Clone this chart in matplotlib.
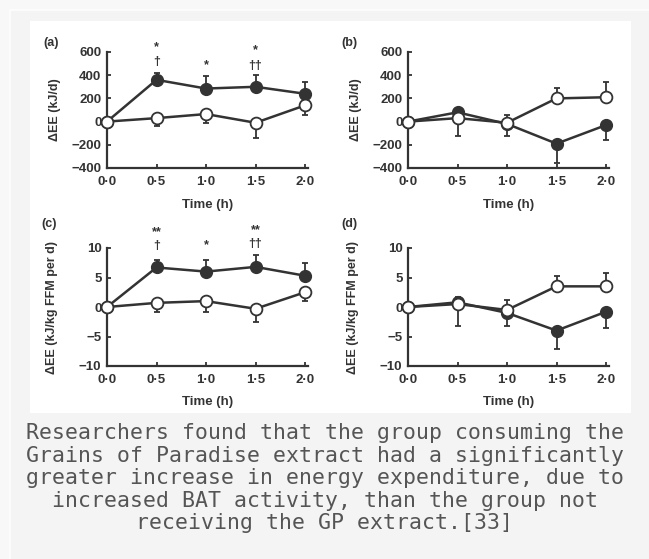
import matplotlib

matplotlib.use("Agg")
import matplotlib.pyplot as plt
from matplotlib.patches import Rectangle

# time points (h)
times = [0.0, 0.5, 1.0, 1.5, 2.0]
time_labels = ["0·0", "0·5", "1·0", "1·5", "2·0"]

# (a) kJ/d
a_fill = [0, 360, 285, 300, 240]
a_fill_up = [0, 60, 105, 100, 100]
a_fill_lo = [0, 0, 0, 0, 0]
a_open = [0, 30, 65, -10, 140]
a_open_up = [0, 0, 0, 0, 0]
a_open_lo = [0, 70, 75, 130, 80]

# (b) kJ/d
b_fill = [0, 80, -20, -190, -30]
b_fill_up = [0, 0, 0, 0, 0]
b_fill_lo = [0, 0, 100, 170, 130]
b_open = [0, 30, -10, 200, 210]
b_open_up = [0, 0, 70, 90, 130]
b_open_lo = [0, 150, 0, 0, 0]

# (c) kJ/kg FFM per d
c_fill = [0, 6.7, 6.0, 6.8, 5.3]
c_fill_up = [0, 1.3, 2.0, 2.0, 2.2]
c_fill_lo = [0, 0, 0, 0, 0]
c_open = [0, 0.7, 1.0, -0.3, 2.5]
c_open_up = [0, 0, 0, 0, 0]
c_open_lo = [0, 1.5, 1.8, 2.2, 1.5]

# (d) kJ/kg FFM per d
d_fill = [0, 0.8, -1.0, -4.0, -0.8]
d_fill_up = [0, 0.9, 0, 0, 0]
d_fill_lo = [0, 0, 2.2, 3.2, 2.7]
d_open = [0, 0.5, -0.5, 3.5, 3.5]
d_open_up = [0, 0, 1.7, 1.7, 2.3]
d_open_lo = [0, 3.8, 0, 0, 0]

# significance marks: (x, y, text)
a_marks = [(0.5, 645, "*"), (0.5, 515, "†"), (1.0, 490, "*"), (1.5, 620, "*"), (1.5, 475, "††")]
c_marks = [(0.5, 12.6, "**"), (0.5, 10.3, "†"), (1.0, 10.4, "*"), (1.5, 13.0, "**"), (1.5, 10.6, "††")]

caption = [
    "Researchers found that the group consuming the",
    "Grains of Paradise extract had a significantly",
    "greater increase in energy expenditure, due to",
    "increased BAT activity, than the group not",
    "receiving the GP extract.[33]",
]

INK = "#333333"
plt.rcParams["font.family"] = ["Liberation Sans", "DejaVu Sans"]

W, H = 649, 559
fig = plt.figure(figsize=(W / 100, H / 100), dpi=100)
fig.patch.set_facecolor("#f8f8f8")


def px_rect(x0, y0, x1, y1, **kw):
    fig.patches.append(Rectangle((x0 / W, 1 - y1 / H), (x1 - x0) / W, (y1 - y0) / H,
                                 transform=fig.transFigure, zorder=-10, **kw))


px_rect(10, 10, 660, 570, facecolor="#f4f4f4", edgecolor="#fdfdfd", linewidth=1.2)
px_rect(30, 21, 631, 413, facecolor="white", edgecolor="none")


def panel(rect, fill, fill_lo, fill_up, opn, opn_lo, opn_up, ylim, yticks, ylabel,
          ylabel_x, xlabel_y, tag, tag_xy, marks):
    x0, y0, x1, y1 = rect
    ax = fig.add_axes([x0 / W, 1 - y1 / H, (x1 - x0) / W, (y1 - y0) / H])
    ax.set_facecolor("none")
    ax.errorbar(times, fill, yerr=[fill_lo, fill_up], color=INK, lw=1.8, marker="o",
                ms=8.5, mfc=INK, mec=INK, ecolor=INK, elinewidth=1.3, capsize=2.5,
                capthick=1.3, clip_on=False, zorder=3)
    ax.errorbar(times, opn, yerr=[opn_lo, opn_up], color=INK, lw=1.8, marker="o",
                ms=8.5, mfc="white", mec=INK, mew=1.3, ecolor=INK, elinewidth=1.3,
                capsize=2.5, capthick=1.3, clip_on=False, zorder=4)
    for mx, my, mt in marks:
        ax.text(mx, my, mt, ha="center", va="center", fontsize=9, fontweight="bold",
                color=INK, clip_on=False)
    ax.set_xlim(0, 2.03)
    ax.set_ylim(*ylim)
    ax.set_xticks(times)
    ax.set_xticklabels(time_labels)
    ax.set_yticks(yticks)
    ax.set_yticklabels([str(v).replace("-", "−") for v in yticks])
    for s in ("top", "right"):
        ax.spines[s].set_visible(False)
    for s in ("left", "bottom"):
        ax.spines[s].set_linewidth(1.6)
        ax.spines[s].set_color(INK)
    ax.tick_params(direction="in", length=3, width=1.3, color=INK, labelcolor=INK,
                   labelsize=9.5)
    ax.tick_params(axis="x", pad=6)
    ax.tick_params(axis="y", pad=4)
    for lab in ax.get_xticklabels() + ax.get_yticklabels():
        lab.set_fontweight("bold")
    ax.set_xlabel("Time (h)", fontsize=9.5, fontweight="bold", color=INK)
    ax.xaxis.set_label_coords(0.5, xlabel_y)
    ax.set_ylabel(ylabel, fontsize=9, fontweight="bold", color=INK)
    ax.yaxis.set_label_coords(ylabel_x, 0.5)
    ax.text(tag_xy[0], tag_xy[1], tag, transform=ax.transAxes, fontsize=9,
            fontweight="bold", color=INK, ha="center", va="center")
    return ax


panel((107, 52, 308, 168), a_fill, a_fill_lo, a_fill_up, a_open, a_open_lo, a_open_up,
      (-400, 600), [-400, -200, 0, 200, 400, 600], "ΔEE (kJ/d)", -0.23, -0.265, "(a)",
      (-0.28, 1.08), a_marks)
panel((408, 52, 609, 168), b_fill, b_fill_lo, b_fill_up, b_open, b_open_lo, b_open_up,
      (-400, 600), [-400, -200, 0, 200, 400, 600], "ΔEE (kJ/d)", -0.23, -0.265, "(b)",
      (-0.29, 1.08), [])
panel((107, 248, 308, 366), c_fill, c_fill_lo, c_fill_up, c_open, c_open_lo, c_open_up,
      (-10, 10), [-10, -5, 0, 5, 10], "ΔEE (kJ/kg FFM per d)", -0.245, -0.25, "(c)",
      (-0.29, 1.2), c_marks)
panel((408, 248, 609, 366), d_fill, d_fill_lo, d_fill_up, d_open, d_open_lo, d_open_up,
      (-10, 10), [-10, -5, 0, 5, 10], "ΔEE (kJ/kg FFM per d)", -0.245, -0.25, "(d)",
      (-0.29, 1.2), [])

for i, line in enumerate(caption):
    fig.text(324.5 / W, 1 - (433 + i * 22.6) / H, line, ha="center", va="center",
             family="DejaVu Sans Mono", fontsize=15.5, color="#555555")

fig.savefig("out.png", dpi=100, facecolor=fig.get_facecolor())
